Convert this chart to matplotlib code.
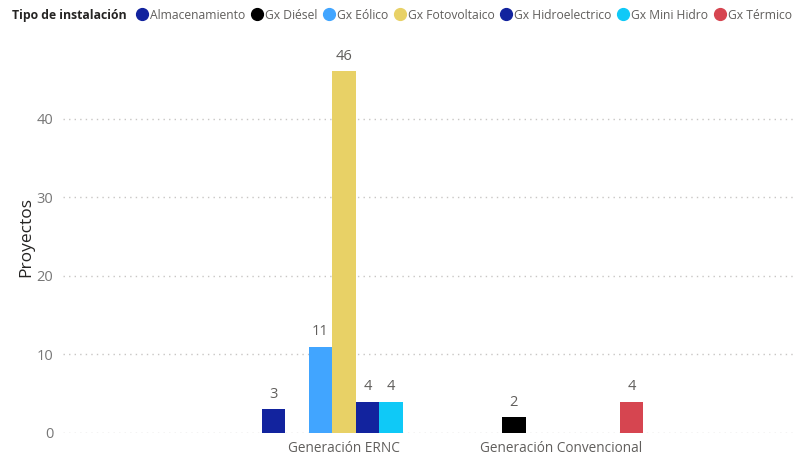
import matplotlib.pyplot as plt
import numpy as np

plt.rcParams['font.family'] = ['Open Sans', 'DejaVu Sans']

categorias = ['Generación ERNC', 'Generación Convencional']
series = ['Almacenamiento', 'Gx Diésel', 'Gx Eólico', 'Gx Fotovoltaico',
          'Gx Hidroelectrico', 'Gx Mini Hidro', 'Gx Térmico']
colores = ['#12239E', '#000000', '#41A5FF', '#E8D166', '#12239E', '#0FC9F7', '#D64550']
# valores por serie: [ERNC, Convencional]; None = sin barra
valores = {
    'Almacenamiento': [3, None],
    'Gx Diésel': [None, 2],
    'Gx Eólico': [11, None],
    'Gx Fotovoltaico': [46, None],
    'Gx Hidroelectrico': [4, None],
    'Gx Mini Hidro': [4, None],
    'Gx Térmico': [None, 4],
}

fig = plt.figure(figsize=(7.98, 4.58), dpi=100)
ax = fig.add_axes([0.079, 0.0546, 0.9185, 0.858])

x = np.arange(len(categorias))
n = len(series)
ancho = 0.76 / n
for i, (s, c) in enumerate(zip(series, colores)):
    pos = x + (i - (n - 1) / 2) * ancho
    for xp, v in zip(pos, valores[s]):
        if v is None:
            continue
        ax.bar(xp, v, width=ancho, color=c, zorder=3)
        ax.text(xp, v + 0.95, str(v), ha='center', va='bottom', fontsize=10.5, color='#605E5C')

ax.set_xlim(-1.295, 2.083)
ax.set_ylim(0, 50)
ax.set_xticks(x)
ax.set_xticklabels(categorias, fontsize=9.8, color='#605E5C')
ax.set_yticks([0, 10, 20, 30, 40])
ax.tick_params(axis='both', length=0, pad=6)
ax.tick_params(axis='y', colors='#777777', labelsize=10.5, pad=7)
ax.grid(axis='y', linestyle=(0, (1, 3)), color='#C8C6C4', linewidth=1, zorder=0)
for sp in ax.spines.values():
    sp.set_visible(False)
ax.set_ylabel('Proyectos', fontsize=12.5, color='#252423', labelpad=2, fontweight='medium')

# leyenda
fig.text(0.015, 0.967, 'Tipo de instalación', fontsize=8.8, fontweight='bold', color='#252423', va='center')
handles = [plt.Line2D([], [], marker='o', linestyle='', markersize=8.5, color=c) for c in colores]
fig.legend(handles, series, loc='center left', bbox_to_anchor=(0.170, 0.967), ncol=n,
           frameon=False, fontsize=8.7, handletextpad=0.15, columnspacing=0.48,
           handlelength=1.0, borderpad=0, borderaxespad=0, labelcolor='#605E5C')

fig.savefig('out.png', dpi=100)
